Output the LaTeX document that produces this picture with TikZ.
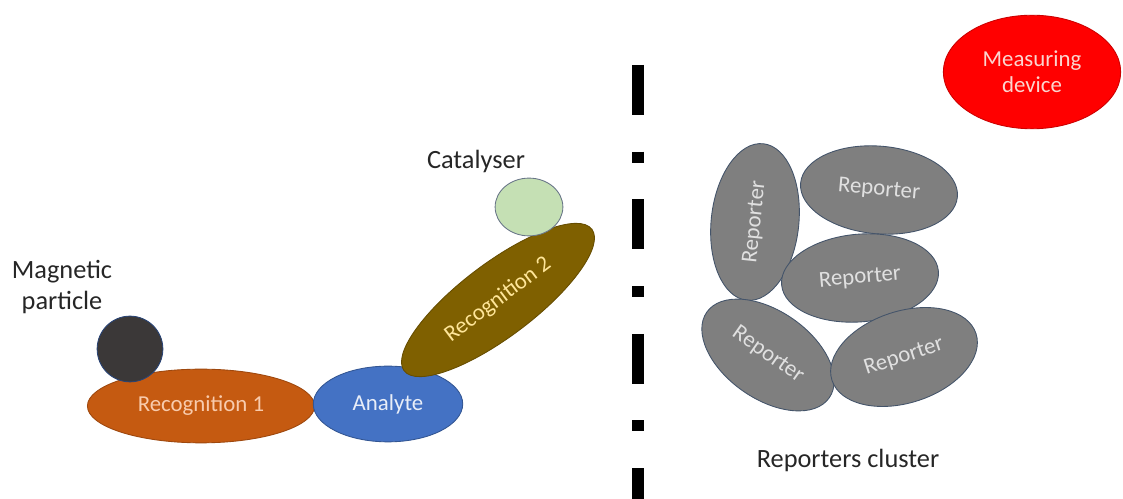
\documentclass[tikz,border=0pt]{standalone}
\usepackage{fontspec}
\setmainfont{Carlito}
\usetikzlibrary{shapes.geometric}

\definecolor{recone}{HTML}{C55A11}
\definecolor{recnetxt}{HTML}{F8CBAD}
\definecolor{metertxt}{HTML}{FBD5CF}
\definecolor{analytefill}{HTML}{4472C4}
\definecolor{rectwo}{HTML}{7F6000}
\definecolor{rectwotxt}{HTML}{FFE699}
\definecolor{catfill}{HTML}{C5E0B4}
\definecolor{magfill}{HTML}{3B3838}
\definecolor{repfill}{HTML}{7F7F7F}
\definecolor{repline}{HTML}{44546A}
\definecolor{labeltxt}{HTML}{262626}

% one pixel of the layout grid
\def\pxu{0.567pt}

\tikzset{
  blob/.style={ellipse, draw, line width=0.5pt, inner sep=0pt,
    font=\fontsize{13}{15}\selectfont},
  reporter/.style={blob, fill=repfill, draw=repline, text=white!88!black,
    minimum width=158*\pxu, minimum height=88*\pxu},
  caption/.style={font=\fontsize{15}{18}\selectfont, text=labeltxt,
    align=center}
}

\begin{document}
\begin{tikzpicture}[x=0.02cm, y=-0.02cm]
  \useasboundingbox (0,0) rectangle (1123,499);

  % divider
  \coordinate (top) at (638,65);
  \coordinate (bottom) at (638,499);
  \draw[line width=6.8pt,
        dash pattern=on 28.3pt off 21pt on 6.2pt off 21pt] (top) -- (bottom);

  % left: sandwich assay
  \node[blob, fill=recone, draw=recone!80!black, text=recnetxt,
        minimum width=228*\pxu, minimum height=74*\pxu] (recone) at (201,406) {Recognition 1};
  \node[blob, fill=analytefill, draw=analytefill!75!black, text=white!88!analytefill,
        minimum width=150*\pxu, minimum height=76*\pxu] (analyte) at (388,404) {Analyte};
  \node[blob, fill=rectwo, draw=rectwo!80!black, text=rectwotxt, rotate=37,
        minimum width=236*\pxu, minimum height=74*\pxu] (rectwo) at (498,300) {Recognition 2};
  \node[blob, fill=catfill, draw=repline!80,
        minimum width=68*\pxu, minimum height=58*\pxu] (cat) at (529,207) {};
  \node[circle, fill=magfill, draw=analytefill!60!black, line width=0.5pt,
        minimum size=66*\pxu, inner sep=0pt] (magnet) at (130,349) {};

  \node[caption] (catlabel) at (476,161) {Catalyser};
  \node[caption] (maglabel) at (62,287) {Magnetic\\particle};

  % right: reporters
  \node[blob, fill=red, draw=red!80!black, text=metertxt, align=center,
        minimum width=178*\pxu, minimum height=114*\pxu] (meter) at (1032,72) {Measuring\\device};

  \node[reporter, rotate=84] (repa) at (755,222) {Reporter};
  \node[reporter, rotate=-5] (repb) at (879,190) {Reporter};
  \node[reporter, rotate=5] (repc) at (860,278) {Reporter};
  \node[reporter, rotate=-35, minimum width=150*\pxu] (repd) at (768,355) {Reporter};
  \node[reporter, rotate=18, minimum width=152*\pxu, minimum height=92*\pxu] (repe) at (904,357) {Reporter};

  \node[caption] (cluster) at (848,460) {Reporters cluster};
\end{tikzpicture}
\end{document}
